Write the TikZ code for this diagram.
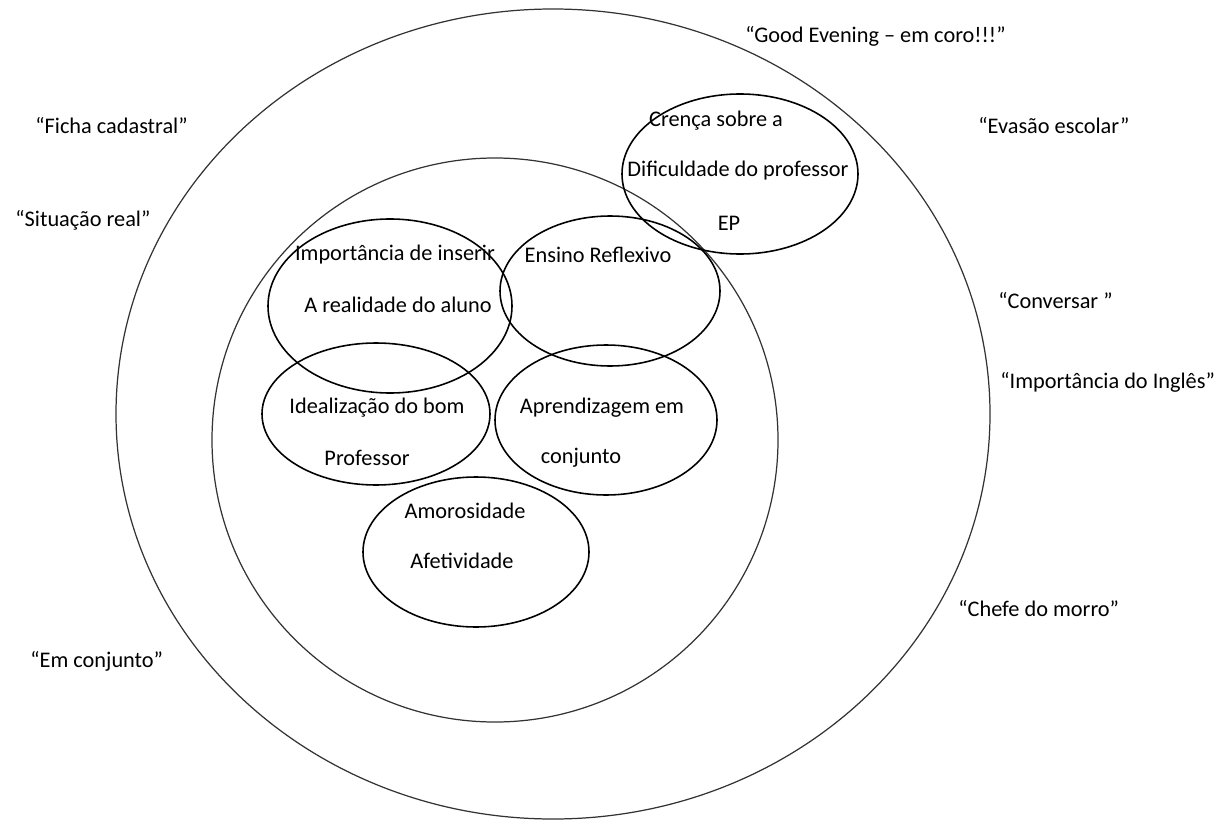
\documentclass[tikz,border=0pt]{standalone}
\usepackage{fontspec}
\setmainfont{Carlito}
\usepackage{xcolor}

\begin{document}
\begin{tikzpicture}[x=0.02cm, y=-0.02cm,
    ring/.style={draw=black!80, line width=0.7pt},
    bubble/.style={draw=black, line width=0.9pt},
    lbl/.style={inner sep=0pt, font=\fontsize{12.7pt}{14pt}\selectfont}]
  % Fix the page size
  \useasboundingbox (0,0) rectangle (1227,821);

  % Draw the two big circles
  \draw[ring] (553,414) ellipse [x radius=437, y radius=405];
  \draw[ring] (495,440) ellipse [x radius=283, y radius=282];

  % Draw the small ellipses
  \draw[bubble] (390,306) ellipse [x radius=122, y radius=87];
  \draw[bubble] (610,291) ellipse [x radius=110, y radius=75];
  \draw[bubble] (376,414) ellipse [x radius=114, y radius=71];
  \draw[bubble] (606,420) ellipse [x radius=111, y radius=75];
  \draw[bubble] (476,552) ellipse [x radius=113, y radius=75];
  \draw[bubble] (740,174) ellipse [x radius=118, y radius=80];

  % Texts inside
  \node[lbl] (imp1) at (395,255) {Importância de inserir};
  \node[lbl] (imp2) at (398,305) {A realidade do aluno};
  \node[lbl] (ens) at (598,255) {Ensino Reflexivo};
  \node[lbl] (ide1) at (377,408) {Idealização do bom};
  \node[lbl] (ide2) at (367,458) {Professor};
  \node[lbl] (apr1) at (602,408) {Aprendizagem em};
  \node[lbl] (apr2) at (581,458) {conjunto};
  \node[lbl] (amo1) at (465,511) {Amorosidade};
  \node[lbl] (amo2) at (462,561) {Afetividade};
  \node[lbl] (cre1) at (716,121) {Crença sobre a};
  \node[lbl] (cre2) at (738,171) {Dificuldade do professor};
  \node[lbl] (cre3) at (729,223) {EP};

  % Texts around
  \node[lbl, right] (good) at (745,36) {“Good Evening – em coro!!!”};
  \node[lbl, right] (ficha) at (35,126) {“Ficha cadastral”};
  \node[lbl, right] (evas) at (978,126) {“Evasão escolar”};
  \node[lbl, right] (situ) at (15,220) {“Situação real”};
  \node[lbl, right] (conv) at (998,301) {“Conversar ”};
  \node[lbl, right] (ingl) at (1000,382) {“Importância do Inglês”};
  \node[lbl, right] (chefe) at (958,609) {“Chefe do morro”};
  \node[lbl, right] (conj) at (30,661) {“Em conjunto”};
\end{tikzpicture}
\end{document}
